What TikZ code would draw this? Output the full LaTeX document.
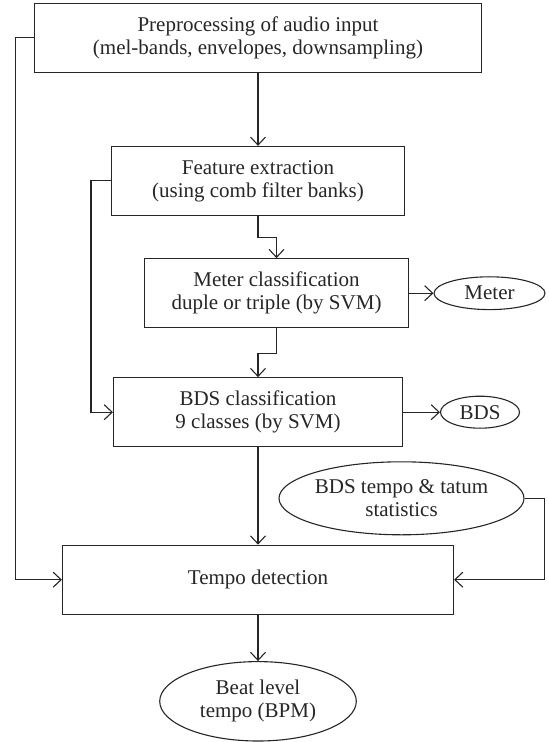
\documentclass[tikz,border=0pt]{standalone}
\usepackage{fontspec}
\setmainfont{Liberation Serif}
\usetikzlibrary{shapes.geometric,arrows.meta}
\begin{document}
\begin{tikzpicture}[x=0.5pt, y=-0.5pt, color=black!85, line width=0.55pt,
  >={Straight Barb[length=4pt,width=7.5pt]},
  every node/.style = {align=center, inner sep=0pt,
    font=\fontsize{10.5}{11.5}\selectfont},
  stagebox/.style = {shape=rectangle, draw, minimum height=34.5pt},
  resultoval/.style = {shape=ellipse, draw}]
  \useasboundingbox (0,0) rectangle (548,742);
  \node[stagebox, minimum width=223.8pt] (pre) at (258,37.8)
    {Preprocessing of audio input\\(mel-bands, envelopes, downsampling)};
  \node[stagebox, minimum width=146.5pt] (feat) at (258,180.9)
    {Feature extraction\\(using comb filter banks)};
  \node[stagebox, minimum width=132pt] (meter) at (276.5,293.2)
    {Meter classification\\duple or triple (by SVM)};
  \node[stagebox, minimum width=144.5pt] (bds) at (258,412.2)
    {BDS classification\\9 classes (by SVM)};
  \node[stagebox, minimum width=195.5pt] (tempo) at (258,579.7)
    {Tempo detection};
  \node[resultoval, minimum width=55.5pt, minimum height=16.4pt] (meterout) at (489.5,293.2) {Meter};
  \node[resultoval, minimum width=39.5pt, minimum height=16pt] (bdsout) at (480,412.2) {BDS};
  \node[resultoval, minimum width=119pt, minimum height=36.5pt] (stats) at (401.5,498.3)
    {BDS tempo \& tatum\\statistics};
  \node[resultoval, minimum width=98.3pt, minimum height=39.7pt] (beat) at (258,701.3)
    {Beat level\\tempo (BPM)};
  \draw[->] (pre) -- (feat);
  \draw[->] (pre.west) -- ++(-18.5,0) |- (tempo.west);
  \draw[->] (feat.west) -- ++(-20,0) |- (bds.west);
  \draw[->] (feat.south) -- ++(0,21.5) -| (meter.north);
  \draw[->] (meter.south) -- ++(0,25) -| (bds.north);
  \draw[->] (meter) -- (meterout);
  \draw[->] (bds) -- (bdsout);
  \draw[->] (bds) -- (tempo);
  \draw[->] (stats.east) -- ++(20,0) |- (tempo.east);
  \draw[->] (tempo) -- (beat);
\end{tikzpicture}
\end{document}
